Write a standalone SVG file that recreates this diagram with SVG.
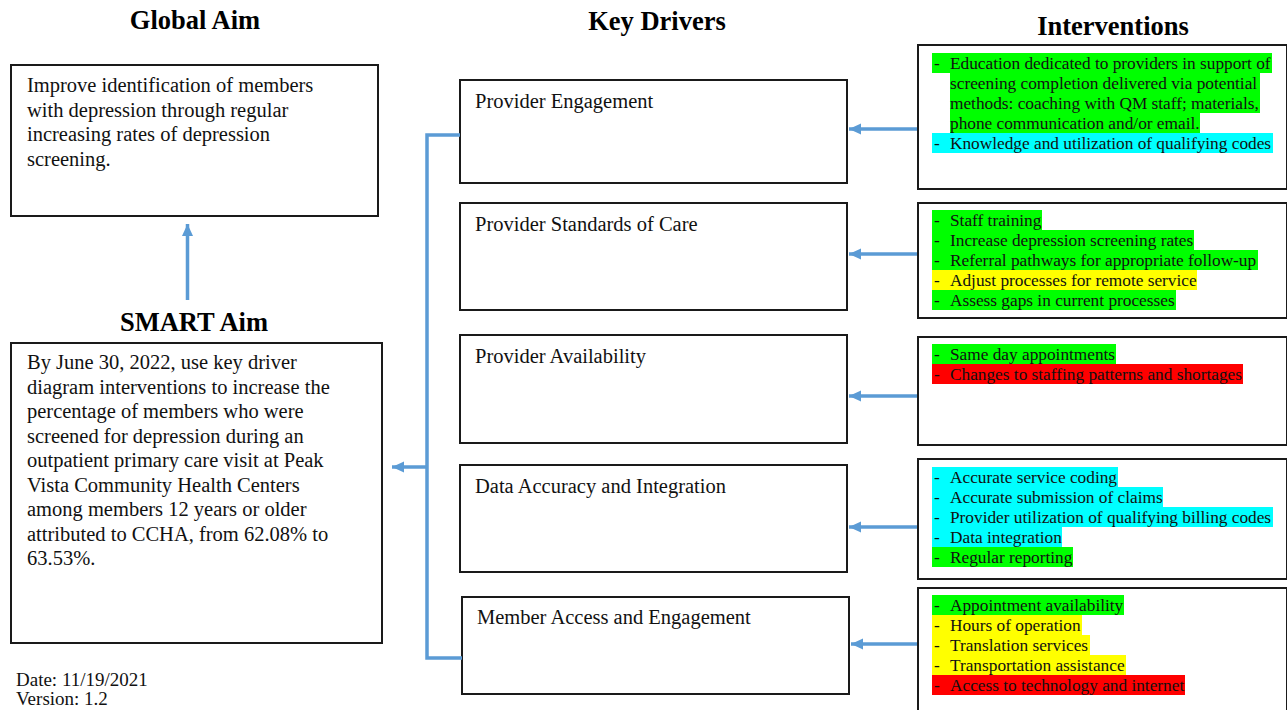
<svg xmlns="http://www.w3.org/2000/svg" width="1287" height="710" viewBox="0 0 1287 710">
<style>
.title{font-family:"Liberation Serif","Times New Roman",serif;font-weight:bold;font-size:26.5px;fill:#000;text-anchor:middle}
.body{font-family:"Liberation Serif","Times New Roman",serif;font-size:20.5px;fill:#111}
.meta{font-family:"Liberation Serif","Times New Roman",serif;font-size:19px;fill:#111}
.iv{font-family:"Liberation Serif","Times New Roman",serif;font-size:17.3px;fill:#111}
.box{fill:#fff;stroke:#1a1a1a;stroke-width:2}
.conn{fill:none;stroke:#5b9bd5;stroke-width:3.5}
.g{fill:#00ff00}.c{fill:#00ffff}.y{fill:#ffff00}.r{fill:#ff0000}
</style>
<defs>
<marker id="ah" markerUnits="userSpaceOnUse" markerWidth="14" markerHeight="14" refX="12" refY="7" orient="auto">
<path d="M0,1.5 L12,7 L0,12.5 Z" fill="#5b9bd5"/>
</marker>
</defs>
<rect width="1287" height="710" fill="#fff"/>

<text class="title" x="195" y="29">Global Aim</text>
<text class="title" x="657" y="30">Key Drivers</text>
<text class="title" x="1113" y="35">Interventions</text>
<text class="title" x="194" y="331">SMART Aim</text>

<g id="global-aim">
<rect class="box" x="11" y="65" width="367" height="151"/>
<text class="body" x="27" y="92">Improve identification of members</text>
<text class="body" x="27" y="116.5">with depression through regular</text>
<text class="body" x="27" y="141">increasing rates of depression</text>
<text class="body" x="27" y="165.5">screening.</text>
</g>

<g id="smart-aim">
<rect class="box" x="11" y="343" width="371" height="300"/>
<text class="body" x="27" y="369">By June 30, 2022, use key driver</text>
<text class="body" x="27" y="393.5">diagram interventions to increase the</text>
<text class="body" x="27" y="418">percentage of members who were</text>
<text class="body" x="27" y="442.5">screened for depression during an</text>
<text class="body" x="27" y="467">outpatient primary care visit at Peak</text>
<text class="body" x="27" y="491.5">Vista Community Health Centers</text>
<text class="body" x="27" y="516">among members 12 years or older</text>
<text class="body" x="27" y="540.5">attributed to CCHA, from 62.08% to</text>
<text class="body" x="27" y="565">63.53%.</text>
</g>

<g id="version-info">
<text class="meta" x="16" y="686">Date: 11/19/2021</text>
<text class="meta" x="16" y="705">Version: 1.2</text>
</g>

<g id="driver-1">
<rect class="box" x="460" y="80" width="387" height="103"/>
<text class="body" x="475" y="108">Provider Engagement</text>
</g>
<g id="driver-2">
<rect class="box" x="460" y="203" width="387" height="107"/>
<text class="body" x="475" y="231">Provider Standards of Care</text>
</g>
<g id="driver-3">
<rect class="box" x="460" y="335" width="387" height="108"/>
<text class="body" x="475" y="363">Provider Availability</text>
</g>
<g id="driver-4">
<rect class="box" x="460" y="465" width="387" height="107"/>
<text class="body" x="475" y="493">Data Accuracy and Integration</text>
</g>
<g id="driver-5">
<rect class="box" x="462" y="597" width="387" height="97"/>
<text class="body" x="477" y="624">Member Access and Engagement</text>
</g>

<g id="interventions-1">
<rect class="box" x="918" y="45" width="369" height="144"/>
<rect class="g" x="932" y="53" width="340" height="20"/>
<rect class="g" x="950" y="73" width="310" height="20"/>
<rect class="g" x="950" y="93" width="310" height="20"/>
<rect class="g" x="950" y="113" width="250" height="20"/>
<rect class="c" x="932" y="133" width="341" height="20"/>
<text class="iv" x="934" y="68.5">-</text><text class="iv" x="950" y="68.5">Education dedicated to providers in support of</text>
<text class="iv" x="950" y="88.5">screening completion delivered via potential</text>
<text class="iv" x="950" y="108.5">methods: coaching with QM staff; materials,</text>
<text class="iv" x="950" y="128.5">phone communication and/or email.</text>
<text class="iv" x="934" y="148.5">-</text><text class="iv" x="950" y="148.5">Knowledge and utilization of qualifying codes</text>
</g>

<g id="interventions-2">
<rect class="box" x="918" y="203" width="369" height="115"/>
<rect class="g" x="932" y="210" width="110" height="20"/>
<rect class="g" x="932" y="230" width="262" height="20"/>
<rect class="g" x="932" y="250" width="326" height="20"/>
<rect class="y" x="932" y="270" width="265" height="20"/>
<rect class="g" x="932" y="290" width="244" height="20"/>
<text class="iv" x="934" y="225.5">-</text><text class="iv" x="950" y="225.5">Staff training</text>
<text class="iv" x="934" y="245.5">-</text><text class="iv" x="950" y="245.5">Increase depression screening rates</text>
<text class="iv" x="934" y="265.5">-</text><text class="iv" x="950" y="265.5">Referral pathways for appropriate follow-up</text>
<text class="iv" x="934" y="285.5">-</text><text class="iv" x="950" y="285.5">Adjust processes for remote service</text>
<text class="iv" x="934" y="305.5">-</text><text class="iv" x="950" y="305.5">Assess gaps in current processes</text>
</g>

<g id="interventions-3">
<rect class="box" x="918" y="337" width="369" height="108"/>
<rect class="g" x="932" y="344" width="184" height="20"/>
<rect class="r" x="932" y="364" width="311" height="20"/>
<text class="iv" x="934" y="359.5">-</text><text class="iv" x="950" y="359.5">Same day appointments</text>
<text class="iv" x="934" y="379.5">-</text><text class="iv" x="950" y="379.5">Changes to staffing patterns and shortages</text>
</g>

<g id="interventions-4">
<rect class="box" x="918" y="459" width="369" height="120"/>
<rect class="c" x="932" y="467" width="186" height="20"/>
<rect class="c" x="932" y="487" width="231" height="20"/>
<rect class="c" x="932" y="507" width="341" height="20"/>
<rect class="c" x="932" y="527" width="130" height="20"/>
<rect class="g" x="932" y="547" width="141" height="20"/>
<text class="iv" x="934" y="482.5">-</text><text class="iv" x="950" y="482.5">Accurate service coding</text>
<text class="iv" x="934" y="502.5">-</text><text class="iv" x="950" y="502.5">Accurate submission of claims</text>
<text class="iv" x="934" y="522.5">-</text><text class="iv" x="950" y="522.5">Provider utilization of qualifying billing codes</text>
<text class="iv" x="934" y="542.5">-</text><text class="iv" x="950" y="542.5">Data integration</text>
<text class="iv" x="934" y="562.5">-</text><text class="iv" x="950" y="562.5">Regular reporting</text>
</g>

<g id="interventions-5">
<rect class="box" x="918" y="588" width="369" height="130"/>
<rect class="g" x="932" y="595" width="192" height="20"/>
<rect class="y" x="932" y="615" width="150" height="20"/>
<rect class="y" x="932" y="635" width="158" height="20"/>
<rect class="y" x="932" y="655" width="194" height="20"/>
<rect class="r" x="932" y="675" width="253" height="20"/>
<text class="iv" x="934" y="610.5">-</text><text class="iv" x="950" y="610.5">Appointment availability</text>
<text class="iv" x="934" y="630.5">-</text><text class="iv" x="950" y="630.5">Hours of operation</text>
<text class="iv" x="934" y="650.5">-</text><text class="iv" x="950" y="650.5">Translation services</text>
<text class="iv" x="934" y="670.5">-</text><text class="iv" x="950" y="670.5">Transportation assistance</text>
<text class="iv" x="934" y="690.5">-</text><text class="iv" x="950" y="690.5">Access to technology and internet</text>
</g>

<g id="connectors">
<path class="conn" d="M187.5,300 L187.5,224" marker-end="url(#ah)"/>
<path class="conn" d="M460,135 L427,135 L427,658 L462,658"/>
<path class="conn" d="M427,467 L392,467" marker-end="url(#ah)"/>
<path class="conn" d="M917,129 L849,129" marker-end="url(#ah)"/>
<path class="conn" d="M917,254 L849,254" marker-end="url(#ah)"/>
<path class="conn" d="M917,396 L849,396" marker-end="url(#ah)"/>
<path class="conn" d="M917,527 L849,527" marker-end="url(#ah)"/>
<path class="conn" d="M917,644 L851,644" marker-end="url(#ah)"/>
</g>
</svg>
